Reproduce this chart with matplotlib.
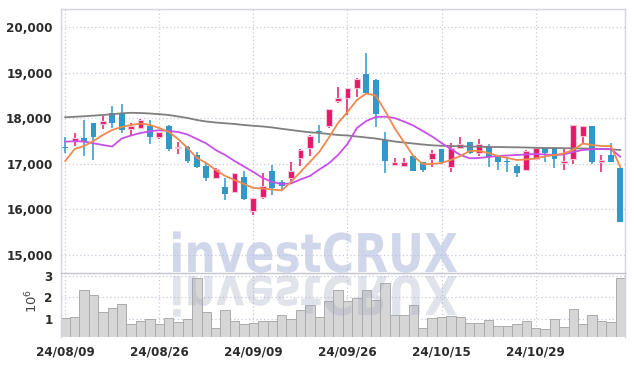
import numpy as np
import matplotlib
matplotlib.use('Agg')
import matplotlib.pyplot as plt
from matplotlib.textpath import TextPath
from matplotlib.patches import PathPatch
from matplotlib.font_manager import FontProperties
from matplotlib.transforms import Affine2D

dates = ['24/08/09', '24/08/12', '24/08/13', '24/08/14', '24/08/16', '24/08/19', '24/08/20', '24/08/21',
         '24/08/22', '24/08/23', '24/08/26', '24/08/27', '24/08/28', '24/08/29', '24/08/30', '24/09/02',
         '24/09/03', '24/09/04', '24/09/05', '24/09/06', '24/09/09', '24/09/10', '24/09/11', '24/09/12',
         '24/09/13', '24/09/19', '24/09/20', '24/09/23', '24/09/24', '24/09/25', '24/09/26', '24/09/27',
         '24/09/30', '24/10/02', '24/10/04', '24/10/07', '24/10/08', '24/10/10', '24/10/11', '24/10/14',
         '24/10/15', '24/10/16', '24/10/17', '24/10/18', '24/10/21', '24/10/22', '24/10/23', '24/10/24',
         '24/10/25', '24/10/28', '24/10/29', '24/10/30', '24/10/31', '24/11/01', '24/11/04', '24/11/05',
         '24/11/06', '24/11/07', '24/11/08', '24/11/11']

opens = [17380, 17510, 17575, 17892, 17877, 18111, 18125, 17760, 17795, 17833,
         17598, 17833, 17350, 17371, 17196, 16954, 16697, 16500, 16390, 16706,
         15966, 16280, 16844, 16596, 16684, 17137, 17356, 17720, 17839, 18388,
         18441, 18674, 18974, 18843, 17525, 16976, 16954, 17174, 17035, 17101,
         17320, 16940, 17342, 17474, 17233, 17393, 17160, 17060, 16961, 16866,
         17108, 17342, 17342, 17027, 17101, 17613, 17833, 17035, 17196, 16917]
highs = [17590, 17685, 17964, 17900, 18059, 18272, 18316, 17905, 17980, 17964,
         17710, 17855, 17481, 17393, 17270, 17013, 16900, 16684, 16810, 16851,
         16260, 16794, 16976, 16647, 17049, 17320, 17630, 17855, 18210, 18682,
         18670, 18893, 19427, 18870, 17707, 17123, 17123, 17180, 17040, 17305,
         17330, 17452, 17598, 17480, 17540, 17430, 17165, 17160, 17000, 17295,
         17360, 17350, 17350, 17320, 17860, 17840, 17840, 17196, 17452, 16920]
lows = [17240, 17400, 17174, 17086, 17760, 17795, 17672, 17635, 17767, 17437,
        17540, 17284, 17211, 17027, 16900, 16625, 16680, 16207, 16370, 16200,
        15878, 16240, 16317, 16427, 16610, 16954, 17174, 17452, 17789, 18331,
        18074, 18463, 18550, 17817, 16794, 16950, 16940, 16840, 16830, 16940,
        17000, 16829, 17320, 17210, 17180, 16940, 16866, 16829, 16720, 16850,
        17100, 17049, 16903, 16866, 16998, 17452, 16998, 16829, 17040, 15731]
closes = [17360, 17575, 17490, 17597, 17949, 17905, 17745, 17833, 17964, 17598,
          17701, 17335, 17375, 17064, 16939, 16697, 16888, 16346, 16794, 16223,
          16245, 16515, 16464, 16522, 16844, 17305, 17613, 17700, 18199, 18454,
          18660, 18865, 18551, 18090, 17064, 17042, 17035, 16844, 16866, 17233,
          17049, 17342, 17430, 17233, 17430, 17160, 17035, 17049, 16807, 17284,
          17356, 17247, 17101, 17071, 17855, 17833, 17049, 17086, 17049, 15731]

ma_short = [17064, 17327, 17393, 17503, 17635, 17745, 17811, 17855, 17887, 17855,
            17789, 17701, 17547, 17349, 17130, 17020, 16866, 16734, 16647, 16559,
            16471, 16460, 16438, 16416, 16603, 16822, 17042, 17262, 17569, 17898,
            18140, 18403, 18546, 18502, 18162, 17789, 17481, 17174, 16998, 16998,
            17020, 17086, 17174, 17284, 17284, 17240, 17174, 17130, 17086, 17097,
            17123, 17163, 17196, 17229, 17306, 17448, 17415, 17393, 17393, 16932]
ma_mid = [17488, 17497, 17492, 17453, 17415, 17382, 17558, 17624, 17679, 17716,
          17740, 17723, 17701, 17646, 17547, 17448, 17305, 17196, 17064, 16943,
          16822, 16691, 16603, 16559, 16570, 16658, 16734, 16877, 17009, 17196,
          17437, 17789, 17942, 18030, 18037, 18008, 17931, 17843, 17723, 17602,
          17459, 17327, 17196, 17123, 17130, 17152, 17174, 17185, 17196, 17207,
          17218, 17207, 17196, 17207, 17262, 17306, 17323, 17327, 17327, 17158]
ma_long = [18024, 18035, 18046, 18061, 18074, 18092, 18111, 18122, 18118, 18107,
           18092, 18074, 18041, 18008, 17964, 17931, 17909, 17892, 17876, 17854,
           17837, 17822, 17800, 17771, 17745, 17718, 17694, 17679, 17657, 17635,
           17624, 17602, 17580, 17558, 17525, 17492, 17470, 17448, 17426, 17408,
           17398, 17393, 17387, 17382, 17378, 17371, 17371, 17367, 17365, 17360,
           17354, 17349, 17349, 17345, 17343, 17338, 17334, 17327, 17320, 17305]

volumes = [1.03, 1.08, 2.32, 2.09, 1.31, 1.49, 1.68, 0.76, 0.89, 0.99,
           0.76, 1.03, 0.85, 0.99, 2.87, 1.31, 0.57, 1.40, 0.89, 0.76,
           0.80, 0.89, 0.89, 1.17, 0.99, 1.40, 1.63, 1.08, 1.82, 2.32,
           1.82, 1.95, 2.32, 1.86, 2.64, 1.18, 1.18, 1.63, 0.57, 1.03,
           1.08, 1.12, 1.08, 0.80, 0.80, 0.94, 0.66, 0.66, 0.76, 0.89,
           0.57, 0.52, 0.99, 0.62, 1.45, 0.76, 1.17, 0.89, 0.85, 2.87]  # millions

price_ticks = [15000, 16000, 17000, 18000, 19000, 20000]

up_color = '#e6186a'
down_color = '#3297c9'
grid_color = '#c9cbdc'
text_color = '#2b2b2b'

W, H = 634, 366
fig = plt.figure(figsize=(W / 100, H / 100), dpi=100)
fig.set_facecolor('white')
ax = fig.add_axes([61 / W, 1 - 273 / H, 564 / W, 264 / H])
axv = fig.add_axes([61 / W, 1 - 337 / H, 564 / W, 64 / H], sharex=ax)

x = np.arange(len(dates))
o = np.array(opens)
c = np.array(closes)
up = c >= o
colors = np.where(up, up_color, down_color)

# candles
ax.vlines(x, lows, highs, colors=colors, linewidth=1.1, zorder=3)
body_lo = np.minimum(o, c)
body_h = np.maximum(np.abs(c - o), 22)
ax.bar(x[up], body_h[up], 0.62, bottom=body_lo[up], color=up_color,
       edgecolor='#f6c2d6', linewidth=0.8, zorder=4)
ax.bar(x[~up], body_h[~up], 0.62, bottom=body_lo[~up], color=down_color,
       linewidth=0, zorder=4)

# moving averages
ax.plot(x, ma_long, color='#7f7f7f', lw=1.3, zorder=5)
ax.plot(x, ma_mid, color='#c850e8', lw=1.3, zorder=5)
ax.plot(x, ma_short, color='#ef8a4e', lw=1.3, zorder=5)

ax.set_ylim(14604, 20402)
ax.set_xlim(-0.45, 59.5)
ax.set_yticks(price_ticks)
ax.set_yticklabels([f'{v:,}' for v in price_ticks])

# volume
axv.bar(x, np.array(volumes) * 1e6, 1.0, color='#d6d6d6', edgecolor='#ababab', linewidth=0.7, zorder=2)
axv.set_ylim(0.17e6, 3.12e6)
axv.set_yticks([1e6, 2e6, 3e6])
axv.set_yticklabels(['1', '2', '3'])
tick_pos = list(range(0, len(dates), 10))
axv.set_xticks(tick_pos)
axv.set_xticklabels([dates[i] for i in tick_pos])

for a in (ax, axv):
    a.grid(True, color=grid_color, linestyle=(0, (1, 2)), linewidth=0.9)
    a.set_axisbelow(True)
    a.tick_params(length=0, pad=6, colors=text_color, labelsize=9.5)
    for lab in a.get_yticklabels() + a.get_xticklabels():
        lab.set_family('DejaVu Sans')
        lab.set_fontstretch('condensed')
        lab.set_fontweight('bold')
    for s in a.spines.values():
        s.set_color('#d4d4dc')
        s.set_linewidth(1)
ax.tick_params(labelbottom=False)
axv.spines['bottom'].set_visible(False)
axv.spines['top'].set_color('#c4c4cc')
ax.spines['bottom'].set_visible(False)

fig.text(32 / W, 1 - 301 / H, r'$10^6$', rotation=90, ha='center', va='center',
         fontsize=9.5, color='#444444')

# watermark + reflection
tp = TextPath((0, 0), 'investCRUX', size=1,
              prop=FontProperties(family='DejaVu Sans', weight='bold'))
ext = tp.get_extents()
sx = (457 - 173) / ext.width
sy = 39 / 0.73
wm = Affine2D().translate(-ext.x0, 0).scale(sx / W, sy / H).translate(173 / W, (H - 272) / H)
fig.add_artist(PathPatch(tp, transform=wm + fig.transFigure, facecolor='#b2bddf',
                         edgecolor='none', alpha=0.6, zorder=10))
rf = Affine2D().translate(-ext.x0, 0).scale(sx / W, -sy / H).translate(173 / W, (H - 276) / H)
fig.add_artist(PathPatch(tp, transform=rf + fig.transFigure, facecolor='#9ea3bc',
                         edgecolor='none', alpha=0.3, zorder=10))

fig.savefig('out.png', dpi=100)
